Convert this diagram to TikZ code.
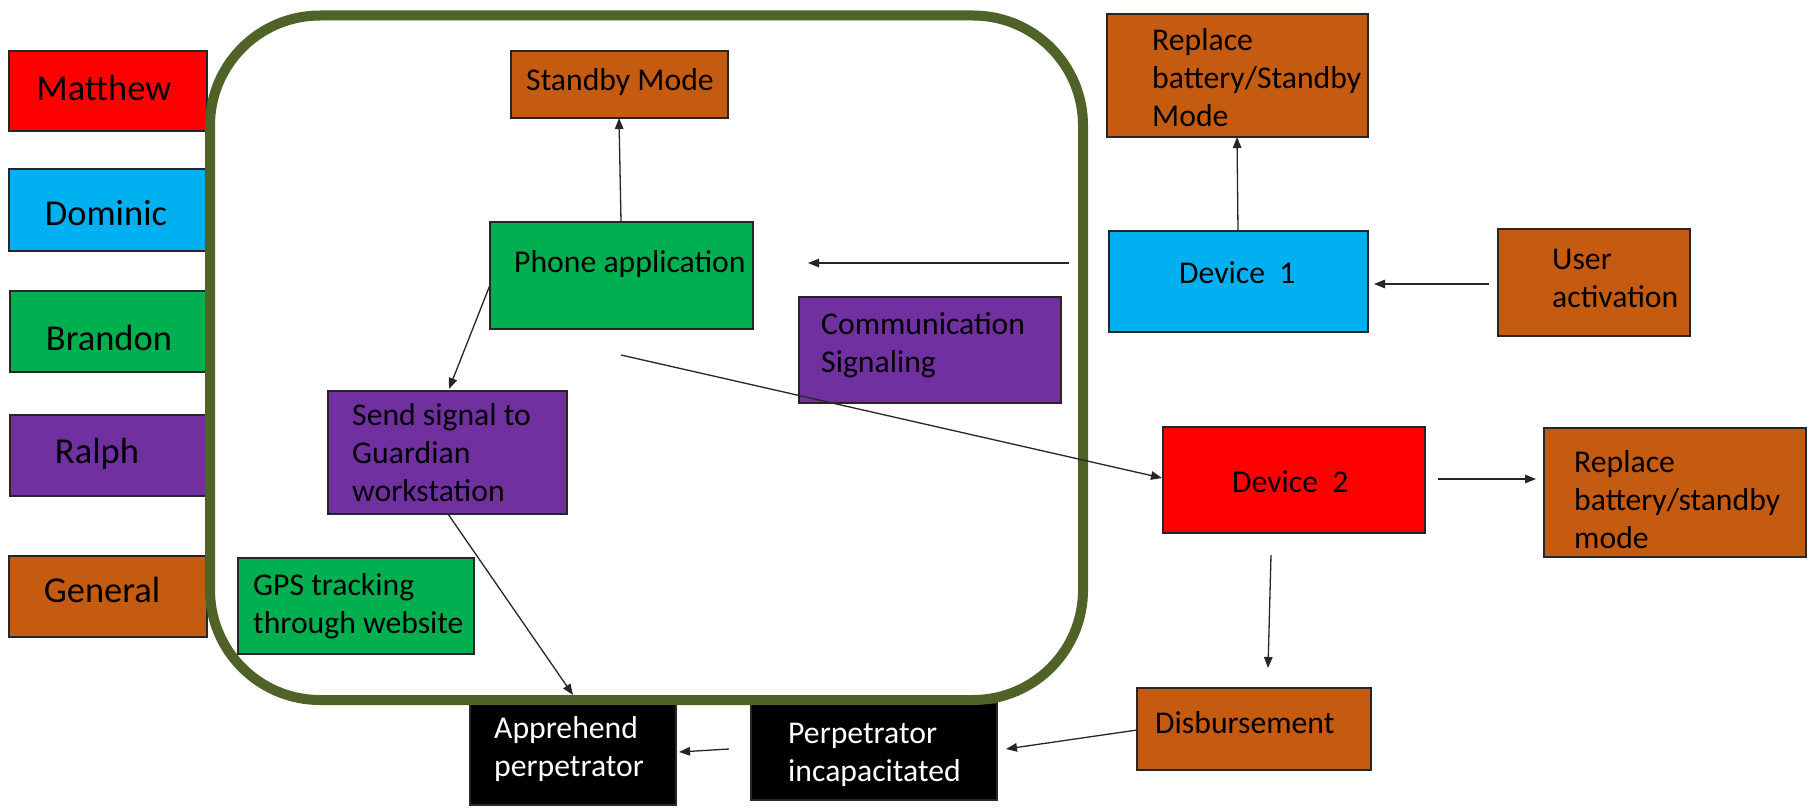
\documentclass[tikz,border=0pt]{standalone}
\usepackage{fontspec}
\setmainfont{Carlito}
\usetikzlibrary{arrows.meta,calc}

\definecolor{cRed}{HTML}{FF0000}
\definecolor{cBlue}{HTML}{00B0F0}
\definecolor{cGreen}{HTML}{00B050}
\definecolor{cPurple}{HTML}{7030A0}
\definecolor{cOrange}{HTML}{C55A11}
\definecolor{cFrame}{HTML}{4F6228}
\definecolor{cEdge}{HTML}{262626}

\tikzset{
  box/.style={draw=cEdge, line width=1.1pt, anchor=north west, inner sep=0pt, outer sep=0pt},
  txt/.style={anchor=north west, inner sep=0pt, align=left, font=\fontsize{31.7}{38.3}\selectfont},
  legendtxt/.style={anchor=base, inner sep=0pt, font=\fontsize{36.5}{42}\selectfont},
  arr/.style={-{Triangle[length=11pt,width=8.5pt]}, line width=1.3pt, draw=cEdge},
  frame/.style={draw=cFrame, line width=10pt, rounded corners=110pt, anchor=north west,
                inner sep=0pt, outer sep=0pt}
}

% box: name, x1, y1, x2, y2, fill colour
\newcommand\bx[6]{\node[box,fill=#6,minimum width={(#4-#2)*1pt},minimum height={(#5-#3)*1pt}] (#1) at (#2,#3) {};}
% text block: name, left x, first baseline, colour, text
\newcommand\tx[5]{\node[txt,text=#4] (#1) at (#2,#3-24) {\rule{0pt}{24pt}#5};}

\begin{document}
\begin{tikzpicture}[x=1pt,y=-1pt]
\useasboundingbox (0,0) rectangle (1819,808);
\fill[white] (0,0) rectangle (1819,808);

% legend
\bx{lm}{9}{51}{207}{131}{cRed}
\bx{ld}{9}{169}{207}{251}{cBlue}
\bx{lb}{10}{291}{207}{372}{cGreen}
\bx{lr}{10}{415}{207}{496}{cPurple}
\bx{lg}{9}{556}{207}{637}{cOrange}
\node[legendtxt] (tm) at (104,100) {Matthew};
\node[legendtxt] (td) at (106,225) {Dominic};
\node[legendtxt] (tb) at (109,350) {Brandon};
\node[legendtxt] (tr) at (97,463) {Ralph};
\node[legendtxt] (tg) at (102,602) {General};

% black result boxes (below the frame)
\bx{perp}{751}{703}{997}{800}{black}
\bx{appr}{470}{703}{676}{805}{black}

% phone application group
\node[frame, minimum width=873pt, minimum height=684.5pt] (grp) at (210,15.5) {};

\bx{standby}{511}{51}{728}{118}{cOrange}
\bx{phone}{490}{222}{753}{329}{cGreen}
\bx{send}{328}{391}{567}{514}{cPurple}
\bx{comm}{799}{297}{1061}{403}{cPurple}
\bx{gps}{238}{558}{474}{654}{cGreen}

% devices
\bx{rep1}{1107}{14}{1368}{137}{cOrange}
\bx{dev1}{1109}{231}{1368}{332}{cBlue}
\bx{user}{1498}{229}{1690}{336}{cOrange}
\bx{dev2}{1163}{427}{1425}{533}{cRed}
\bx{rep2}{1544}{428}{1806}{557}{cOrange}
\bx{disb}{1137}{688}{1371}{770}{cOrange}

% texts
\tx{tstandby}{526}{90}{black}{Standby Mode}
\tx{tphone}{514}{272}{black}{Phone application}
\tx{tsend}{352}{425}{black}{Send signal to\\Guardian\\workstation}
\tx{tcomm}{821}{334}{black}{Communication\\Signaling}
\tx{tgps}{253}{595}{black}{GPS tracking\\through website}
\tx{trep1}{1152}{50}{black}{Replace\\battery/Standby\\Mode}
\tx{tdev1}{1179}{283}{black}{Device\hspace{0.45em}1}
\tx{tuser}{1552}{269}{black}{User\\activation}
\tx{tdev2}{1232}{492}{black}{Device\hspace{0.45em}2}
\tx{trep2}{1574}{472}{black}{Replace\\battery/standby\\mode}
\tx{tdisb}{1155}{733}{black}{Disbursement}
\tx{tperp}{788}{743}{white}{Perpetrator\\incapacitated}
\tx{tappr}{494}{738}{white}{Apprehend\\perpetrator}

% free connector ends
\coordinate (d1out) at (1069,263);
\coordinate (phin)  at (808,263);
\coordinate (phout) at (621,355);
\coordinate (apin)  at (573,695);
\coordinate (usout) at (1489,284);
\coordinate (d1in)  at (1374,284);
\coordinate (d2out) at (1438,479);
\coordinate (r2in)  at (1536,479);
\coordinate (d2dn)  at (1271,555);
\coordinate (dsin)  at (1268,668);
\coordinate (peout) at (1006,749);
\coordinate (pfrom) at (729,749);
\coordinate (apto)  at (679,752);

% connectors
\draw[arr] ($(phone.north west)+(131,0)$) -- ($(standby.south west)+(108,0)$);
\draw[arr] ($(phone.north west)+(0,63)$) -- (449,389);
\draw[arr] (d1out) -- (phin);
\draw[arr] (phout) -- ($(dev2.north west)+(-1,51)$);
\draw[arr] ($(send.south west)+(120,0)$) -- (apin);
\draw[arr] ($(dev1.north west)+(129,0)$) -- ($(rep1.south west)+(130,0)$);
\draw[arr] (usout) -- (d1in);
\draw[arr] (d2out) -- (r2in);
\draw[arr] (d2dn) -- (dsin);
\draw[arr] ($(disb.north west)+(0,42)$) -- (peout);
\draw[arr] (pfrom) -- (apto);
\end{tikzpicture}
\end{document}
